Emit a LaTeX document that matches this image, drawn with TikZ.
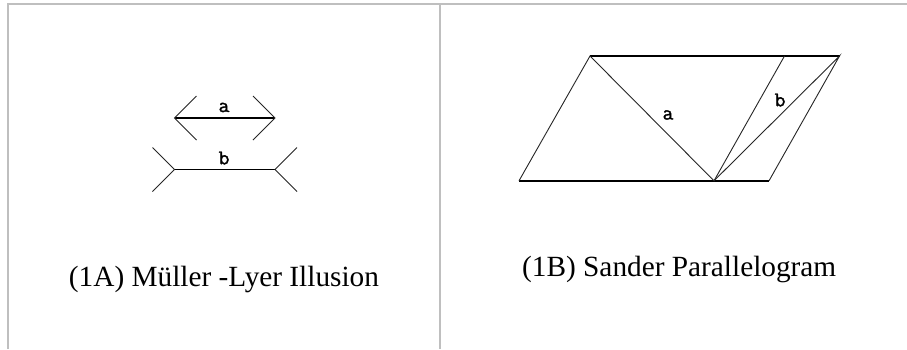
\documentclass[tikz,border=0pt]{standalone}
\usepackage{fontspec}
\setmainfont{Liberation Serif}
\newfontfamily\lblfont[FakeBold=1.6]{Latin Modern Mono}
\begin{document}
\begin{tikzpicture}[x=1bp,y=-1bp,
  frameline/.style={draw=black!25,line width=2bp},
  shaft/.style={draw=black,line width=1.5bp},
  fin/.style={draw=black!85,line width=0.9bp},
  edge/.style={draw=black!85,line width=0.9bp},
  hedge/.style={draw=black,line width=1.5bp},
  lbl/.style={font=\lblfont\fontsize{21bp}{21bp}\selectfont,inner sep=0pt},
  caption/.style={font=\fontsize{29.3bp}{32bp}\selectfont,inner sep=0pt,anchor=base}]
\useasboundingbox (0,0) rectangle (907,349);
\fill[white] (0,0) rectangle (907,349);
% frame
\coordinate (fTL) at (7.8,3.8);
\coordinate (fBL) at (7.8,349);
\coordinate (fTR) at (907,3.8);
\coordinate (fMT) at (439.7,3.8);
\coordinate (fMB) at (439.7,349);
\draw[frameline] (fBL) -- (fTL) -- (fTR);
\draw[frameline] (fMT) -- (fMB);
% Muller-Lyer
\coordinate (aL) at (174.5,118);
\coordinate (aR) at (275,118);
\coordinate (aLu) at (196.5,96);
\coordinate (aLd) at (196.5,140);
\coordinate (aRu) at (253,96);
\coordinate (aRd) at (253,140);
\draw[shaft] (aL) -- (aR);
\draw[fin] (aLu) -- (aL) -- (aLd);
\draw[fin] (aRu) -- (aR) -- (aRd);
\coordinate (bL) at (174.5,169.5);
\coordinate (bR) at (275,169.5);
\coordinate (bLu) at (152.5,147.5);
\coordinate (bLd) at (152.5,191.5);
\coordinate (bRu) at (297,147.5);
\coordinate (bRd) at (297,191.5);
\draw[shaft] (bL) -- (bR);
\draw[fin] (bLu) -- (bL) -- (bLd);
\draw[fin] (bRu) -- (bR) -- (bRd);
\node[lbl] (la) at (224,107.5) {a};
\node[lbl] (lb) at (224,158) {b};
\node[caption] (capA) at (224,286) {(1A) Müller -Lyer Illusion};
% Sander parallelogram
\coordinate (pTL) at (590,56);
\coordinate (pTM) at (784.5,56);
\coordinate (pTR) at (839.5,56);
\coordinate (pBL) at (519,180.8);
\coordinate (pBM) at (714,180.8);
\coordinate (pBR) at (769,180.8);
\draw[hedge] (pTL) -- (pTR);
\draw[hedge] (pBL) -- (pBR);
\draw[edge] (pBL) -- (pTL) -- (pBM) -- (pTM);
\draw[edge] (pBM) -- (pTR) -- (pBR);
\node[lbl] (sa) at (668,115) {a};
\node[lbl] (sb) at (780,100) {b};
\node[caption] (capB) at (679.2,276) {(1B) Sander Parallelogram};
\end{tikzpicture}
\end{document}
